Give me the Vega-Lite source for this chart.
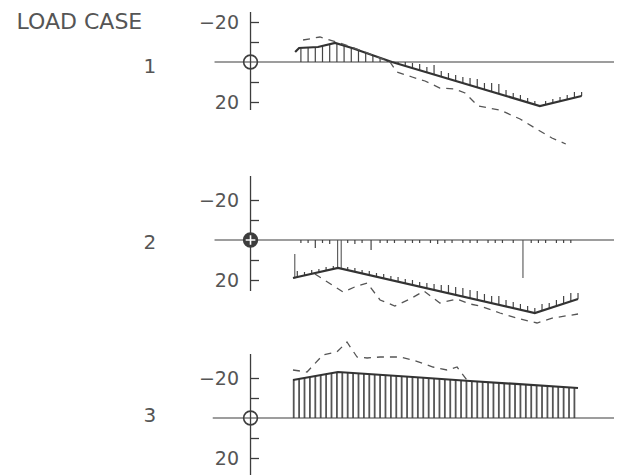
{
  "$schema": "https://vega.github.io/schema/vega-lite/v6.json",
  "background": "white",
  "padding": {"left": 13, "top": 8, "right": 5, "bottom": 0},
  "spacing": 10,
  "config": {"view": {"stroke": null}},
  "datasets": {
    "labels": [
      {"p": 0, "label": "LOAD CASE"},
      {"p": 1, "label": "1"},
      {"p": 2, "label": "2"},
      {"p": 3, "label": "3"}
    ],
    "solid": [
      {"p": 1, "x": 12.4, "v": -5}, {"p": 1, "x": 13.5, "v": -7}, {"p": 1, "x": 18.75, "v": -7.5}, {"p": 1, "x": 23.5, "v": -9.5}, {"p": 1, "x": 28.2, "v": -7}, {"p": 1, "x": 33.75, "v": -3.5}, {"p": 1, "x": 39.3, "v": 0}, {"p": 1, "x": 80.4, "v": 22}, {"p": 1, "x": 92, "v": 17},
      {"p": 2, "x": 11.8, "v": 19}, {"p": 2, "x": 24.3, "v": 14}, {"p": 2, "x": 79, "v": 36.5}, {"p": 2, "x": 91, "v": 29.5},
      {"p": 3, "x": 11.8, "v": -19}, {"p": 3, "x": 24.3, "v": -23}, {"p": 3, "x": 45.1, "v": -20.5}, {"p": 3, "x": 61, "v": -18.5}, {"p": 3, "x": 91, "v": -15}
    ],
    "dashed": [
      {"p": 1, "x": 14.6, "v": -11}, {"p": 1, "x": 19.3, "v": -12.5}, {"p": 1, "x": 24.9, "v": -9.5}, {"p": 1, "x": 31.8, "v": -5}, {"p": 1, "x": 38.75, "v": 0}, {"p": 1, "x": 40.7, "v": 5}, {"p": 1, "x": 44.9, "v": 7.5}, {"p": 1, "x": 48.5, "v": 9.5}, {"p": 1, "x": 52.6, "v": 13}, {"p": 1, "x": 56.8, "v": 13.5}, {"p": 1, "x": 59.6, "v": 15.5}, {"p": 1, "x": 63.2, "v": 22}, {"p": 1, "x": 69.3, "v": 24}, {"p": 1, "x": 74.9, "v": 28.5}, {"p": 1, "x": 79, "v": 33}, {"p": 1, "x": 83.75, "v": 38}, {"p": 1, "x": 87.6, "v": 41},
      {"p": 2, "x": 17.9, "v": 17}, {"p": 2, "x": 25.7, "v": 26}, {"p": 2, "x": 29.6, "v": 23}, {"p": 2, "x": 32.4, "v": 21.5}, {"p": 2, "x": 36, "v": 30}, {"p": 2, "x": 40.1, "v": 33}, {"p": 2, "x": 44.3, "v": 29.5}, {"p": 2, "x": 48.2, "v": 25.5}, {"p": 2, "x": 52.6, "v": 31.5}, {"p": 2, "x": 57.4, "v": 29.5}, {"p": 2, "x": 61, "v": 32}, {"p": 2, "x": 63.75, "v": 33}, {"p": 2, "x": 69.3, "v": 36.5}, {"p": 2, "x": 74.9, "v": 39.5}, {"p": 2, "x": 79.6, "v": 41.5}, {"p": 2, "x": 84, "v": 39}, {"p": 2, "x": 91, "v": 37},
      {"p": 3, "x": 11.8, "v": -24}, {"p": 3, "x": 15.7, "v": -23}, {"p": 3, "x": 20.1, "v": -31.5}, {"p": 3, "x": 24, "v": -33}, {"p": 3, "x": 26.8, "v": -38}, {"p": 3, "x": 29.6, "v": -30.5}, {"p": 3, "x": 32.4, "v": -30}, {"p": 3, "x": 36, "v": -30.5}, {"p": 3, "x": 41.5, "v": -30.5}, {"p": 3, "x": 45.1, "v": -29}, {"p": 3, "x": 50.7, "v": -25.5}, {"p": 3, "x": 54.6, "v": -24}, {"p": 3, "x": 57.4, "v": -25.5}, {"p": 3, "x": 60.1, "v": -19}
    ],
    "verticals": [
      {"p": 2, "x": 12.3, "v": 7, "v2": 19.2}, {"p": 2, "x": 24.2, "v": 0, "v2": 14}, {"p": 2, "x": 25.2, "v": 0, "v2": 14}, {"p": 2, "x": 75.7, "v": 0, "v2": 19}
    ],
    "hatch": [
      {"p": 1, "x": 14, "v": -6.8, "v2": 0}, {"p": 1, "x": 16, "v": -7.1, "v2": 0}, {"p": 1, "x": 18, "v": -7.4, "v2": 0}, {"p": 1, "x": 20, "v": -8, "v2": 0}, {"p": 1, "x": 22, "v": -8.9, "v2": 0}, {"p": 1, "x": 24, "v": -9.2, "v2": 0}, {"p": 1, "x": 26, "v": -8.2, "v2": 0}, {"p": 1, "x": 28, "v": -7.1, "v2": 0}, {"p": 1, "x": 30, "v": -5.8, "v2": 0}, {"p": 1, "x": 32, "v": -4.6, "v2": 0}, {"p": 1, "x": 34, "v": -3.3, "v2": 0}, {"p": 1, "x": 36, "v": -2.1, "v2": 0}, {"p": 1, "x": 38, "v": -0.8, "v2": 0},
      {"p": 1, "x": 41, "v": 0.9, "v2": 0}, {"p": 1, "x": 43, "v": 2.0, "v2": 0}, {"p": 1, "x": 45, "v": 3.0, "v2": 0.5}, {"p": 1, "x": 47, "v": 4.1, "v2": 1}, {"p": 1, "x": 49, "v": 5.2, "v2": 2.5}, {"p": 1, "x": 51, "v": 6.3, "v2": 1.5}, {"p": 1, "x": 53, "v": 7.3, "v2": 4.5}, {"p": 1, "x": 55, "v": 8.4, "v2": 5.5}, {"p": 1, "x": 57, "v": 9.5, "v2": 6.5}, {"p": 1, "x": 59, "v": 10.5, "v2": 7.5}, {"p": 1, "x": 61, "v": 11.6, "v2": 8}, {"p": 1, "x": 63, "v": 12.7, "v2": 8.5}, {"p": 1, "x": 65, "v": 13.8, "v2": 10.5}, {"p": 1, "x": 67, "v": 14.8, "v2": 10.5}, {"p": 1, "x": 69, "v": 15.9, "v2": 11}, {"p": 1, "x": 71, "v": 17.0, "v2": 14}, {"p": 1, "x": 73, "v": 18.0, "v2": 15.5}, {"p": 1, "x": 75, "v": 19.1, "v2": 16.5}, {"p": 1, "x": 77, "v": 20.2, "v2": 18}, {"p": 1, "x": 79, "v": 21.3, "v2": 19.5}, {"p": 1, "x": 82, "v": 21.3, "v2": 19.5}, {"p": 1, "x": 84, "v": 20.4, "v2": 18.5}, {"p": 1, "x": 86, "v": 19.6, "v2": 17.5}, {"p": 1, "x": 88, "v": 18.7, "v2": 16.5}, {"p": 1, "x": 90, "v": 17.9, "v2": 15}, {"p": 1, "x": 92, "v": 17, "v2": 15},
      {"p": 2, "x": 13, "v": 18.5, "v2": 15.5}, {"p": 2, "x": 15, "v": 17.7, "v2": 16}, {"p": 2, "x": 17, "v": 16.9, "v2": 15}, {"p": 2, "x": 19, "v": 16.1, "v2": 14.5}, {"p": 2, "x": 21, "v": 15.3, "v2": 13.5}, {"p": 2, "x": 23, "v": 14.5, "v2": 13}, {"p": 2, "x": 27, "v": 15.1, "v2": 13.5}, {"p": 2, "x": 29, "v": 15.9, "v2": 14}, {"p": 2, "x": 31, "v": 16.8, "v2": 15}, {"p": 2, "x": 33, "v": 17.6, "v2": 15.5}, {"p": 2, "x": 35, "v": 18.4, "v2": 16.5}, {"p": 2, "x": 37, "v": 19.2, "v2": 17}, {"p": 2, "x": 39, "v": 20.0, "v2": 18}, {"p": 2, "x": 41, "v": 20.9, "v2": 18.5}, {"p": 2, "x": 43, "v": 21.7, "v2": 19.5}, {"p": 2, "x": 45, "v": 22.5, "v2": 20}, {"p": 2, "x": 47, "v": 23.3, "v2": 21}, {"p": 2, "x": 49, "v": 24.2, "v2": 21.5}, {"p": 2, "x": 51, "v": 25.0, "v2": 22}, {"p": 2, "x": 53, "v": 25.8, "v2": 22.5}, {"p": 2, "x": 55, "v": 26.6, "v2": 22.5}, {"p": 2, "x": 57, "v": 27.5, "v2": 23.5}, {"p": 2, "x": 59, "v": 28.3, "v2": 24}, {"p": 2, "x": 61, "v": 29.1, "v2": 25}, {"p": 2, "x": 63, "v": 29.9, "v2": 25.5}, {"p": 2, "x": 65, "v": 30.7, "v2": 27}, {"p": 2, "x": 67, "v": 31.6, "v2": 28}, {"p": 2, "x": 69, "v": 32.4, "v2": 28}, {"p": 2, "x": 71, "v": 33.2, "v2": 30}, {"p": 2, "x": 73, "v": 34.0, "v2": 31}, {"p": 2, "x": 75, "v": 34.9, "v2": 32}, {"p": 2, "x": 77, "v": 35.7, "v2": 33}, {"p": 2, "x": 79, "v": 36.5, "v2": 34}, {"p": 2, "x": 81, "v": 35.3, "v2": 32}, {"p": 2, "x": 83, "v": 34.2, "v2": 31.5}, {"p": 2, "x": 85, "v": 33.0, "v2": 30}, {"p": 2, "x": 87, "v": 31.8, "v2": 28}, {"p": 2, "x": 89, "v": 30.7, "v2": 26.5}, {"p": 2, "x": 91, "v": 29.5, "v2": 26.5},
      {"p": 2, "x": 14, "v": 1.5, "v2": 0}, {"p": 2, "x": 16, "v": 1.5, "v2": 0}, {"p": 2, "x": 18, "v": 4, "v2": 0}, {"p": 2, "x": 20, "v": 1.5, "v2": 0}, {"p": 2, "x": 22, "v": 2, "v2": 0}, {"p": 2, "x": 27, "v": 1.5, "v2": 0}, {"p": 2, "x": 29, "v": 2, "v2": 0}, {"p": 2, "x": 31, "v": 1.5, "v2": 0}, {"p": 2, "x": 33.5, "v": 5, "v2": 0}, {"p": 2, "x": 36, "v": 1.5, "v2": 0}, {"p": 2, "x": 38, "v": 1.5, "v2": 0}, {"p": 2, "x": 40, "v": 1.5, "v2": 0}, {"p": 2, "x": 43, "v": 1.5, "v2": 0}, {"p": 2, "x": 45, "v": 1.5, "v2": 0}, {"p": 2, "x": 47, "v": 1.5, "v2": 0}, {"p": 2, "x": 50, "v": 1.5, "v2": 0}, {"p": 2, "x": 52, "v": 2, "v2": 0}, {"p": 2, "x": 54, "v": 1.5, "v2": 0}, {"p": 2, "x": 56, "v": 1.5, "v2": 0}, {"p": 2, "x": 59, "v": 1.5, "v2": 0}, {"p": 2, "x": 61, "v": 1.5, "v2": 0}, {"p": 2, "x": 63, "v": 1.5, "v2": 0}, {"p": 2, "x": 66, "v": 1.5, "v2": 0}, {"p": 2, "x": 68, "v": 1.5, "v2": 0}, {"p": 2, "x": 70, "v": 1.5, "v2": 0}, {"p": 2, "x": 73, "v": 1.5, "v2": 0}, {"p": 2, "x": 78, "v": 1.5, "v2": 0}, {"p": 2, "x": 80, "v": 1.5, "v2": 0}, {"p": 2, "x": 82, "v": 1.5, "v2": 0}, {"p": 2, "x": 85, "v": 1.5, "v2": 0}, {"p": 2, "x": 87, "v": 1.5, "v2": 0}, {"p": 2, "x": 89, "v": 1.5, "v2": 0},
      {"p": 3, "x": 12, "v": -19.1, "v2": 0}, {"p": 3, "x": 13.5, "v": -19.6, "v2": 0}, {"p": 3, "x": 15, "v": -20.1, "v2": 0}, {"p": 3, "x": 16.5, "v": -20.5, "v2": 0}, {"p": 3, "x": 18, "v": -21, "v2": 0}, {"p": 3, "x": 19.5, "v": -21.5, "v2": 0}, {"p": 3, "x": 21, "v": -22, "v2": 0}, {"p": 3, "x": 22.5, "v": -22.5, "v2": 0}, {"p": 3, "x": 24, "v": -22.9, "v2": 0}, {"p": 3, "x": 25.5, "v": -22.8, "v2": 0}, {"p": 3, "x": 27, "v": -22.7, "v2": 0}, {"p": 3, "x": 28.5, "v": -22.5, "v2": 0}, {"p": 3, "x": 30, "v": -22.3, "v2": 0}, {"p": 3, "x": 31.5, "v": -22.1, "v2": 0}, {"p": 3, "x": 33, "v": -22, "v2": 0}, {"p": 3, "x": 34.5, "v": -21.8, "v2": 0}, {"p": 3, "x": 36, "v": -21.6, "v2": 0}, {"p": 3, "x": 37.5, "v": -21.4, "v2": 0}, {"p": 3, "x": 39, "v": -21.3, "v2": 0}, {"p": 3, "x": 40.5, "v": -21.1, "v2": 0}, {"p": 3, "x": 42, "v": -20.9, "v2": 0}, {"p": 3, "x": 43.5, "v": -20.7, "v2": 0}, {"p": 3, "x": 45, "v": -20.5, "v2": 0}, {"p": 3, "x": 46.5, "v": -20.3, "v2": 0}, {"p": 3, "x": 48, "v": -20.1, "v2": 0}, {"p": 3, "x": 49.5, "v": -19.9, "v2": 0}, {"p": 3, "x": 51, "v": -19.8, "v2": 0}, {"p": 3, "x": 52.5, "v": -19.6, "v2": 0}, {"p": 3, "x": 54, "v": -19.4, "v2": 0}, {"p": 3, "x": 55.5, "v": -19.2, "v2": 0}, {"p": 3, "x": 57, "v": -19, "v2": 0}, {"p": 3, "x": 58.5, "v": -18.8, "v2": 0}, {"p": 3, "x": 60, "v": -18.6, "v2": 0}, {"p": 3, "x": 61.5, "v": -18.4, "v2": 0}, {"p": 3, "x": 63, "v": -18.3, "v2": 0}, {"p": 3, "x": 64.5, "v": -18.1, "v2": 0}, {"p": 3, "x": 66, "v": -17.9, "v2": 0}, {"p": 3, "x": 67.5, "v": -17.8, "v2": 0}, {"p": 3, "x": 69, "v": -17.6, "v2": 0}, {"p": 3, "x": 70.5, "v": -17.4, "v2": 0}, {"p": 3, "x": 72, "v": -17.2, "v2": 0}, {"p": 3, "x": 73.5, "v": -17.1, "v2": 0}, {"p": 3, "x": 75, "v": -16.9, "v2": 0}, {"p": 3, "x": 76.5, "v": -16.7, "v2": 0}, {"p": 3, "x": 78, "v": -16.5, "v2": 0}, {"p": 3, "x": 79.5, "v": -16.4, "v2": 0}, {"p": 3, "x": 81, "v": -16.2, "v2": 0}, {"p": 3, "x": 82.5, "v": -16, "v2": 0}, {"p": 3, "x": 84, "v": -15.8, "v2": 0}, {"p": 3, "x": 85.5, "v": -15.7, "v2": 0}, {"p": 3, "x": 87, "v": -15.5, "v2": 0}, {"p": 3, "x": 88.5, "v": -15.3, "v2": 0}, {"p": 3, "x": 90, "v": -15.1, "v2": 0}
    ]
  },
  "vconcat": [
    {
      "width": 601, "height": 157,
      "layer": [
        {"data": {"name": "hatch"}, "transform": [{"filter": "datum.p == 1"}], "mark": {"type": "rule", "color": "#444", "strokeWidth": 1.2},
         "encoding": {"x": {"field": "x", "type": "quantitative", "scale": {"domain": [-66, 101], "nice": false, "zero": false}, "axis": null},
           "y": {"field": "v", "type": "quantitative", "scale": {"domain": [-27, 51.5], "reverse": true, "nice": false, "zero": false},
             "axis": {"title": null, "domain": false, "grid": false, "values": [-20, -10, 10, 20], "labelExpr": "datum.value == -20 ? '−20' : datum.value == 20 ? '20' : ''", "tickSize": -8, "tickColor": "#3d3d3d", "tickWidth": 1.3, "labelPadding": 20, "labelFont": "DejaVu Sans", "labelFontSize": 19, "labelColor": "#555", "offset": -237.5}},
           "y2": {"field": "v2"}}},
        {"data": {"values": [{}]}, "mark": {"type": "rule", "color": "#3d3d3d", "strokeWidth": 1.2},
         "encoding": {"x": {"datum": -10, "type": "quantitative", "axis": null}, "x2": {"datum": 101}, "y": {"datum": 0, "type": "quantitative"}}},
        {"data": {"values": [{}]}, "mark": {"type": "rule", "color": "#3d3d3d", "strokeWidth": 1.3},
         "encoding": {"x": {"datum": 0, "type": "quantitative", "axis": null}, "y": {"datum": -25, "type": "quantitative"}, "y2": {"datum": 24}}},
        {"data": {"name": "solid"}, "transform": [{"filter": "datum.p == 1"}], "mark": {"type": "line", "color": "#333", "strokeWidth": 2.2},
         "encoding": {"x": {"field": "x", "type": "quantitative", "axis": null}, "y": {"field": "v", "type": "quantitative"}}},
        {"data": {"name": "dashed"}, "transform": [{"filter": "datum.p == 1"}], "mark": {"type": "line", "color": "#555", "strokeWidth": 1.3, "strokeDash": [7, 6]},
         "encoding": {"x": {"field": "x", "type": "quantitative", "axis": null}, "y": {"field": "v", "type": "quantitative"}}},
        {"data": {"values": [{}]}, "mark": {"type": "point", "shape": "circle", "size": 190, "filled": false, "stroke": "#3d3d3d", "strokeWidth": 1.6, "opacity": 1},
         "encoding": {"x": {"datum": 0, "type": "quantitative", "axis": null}, "y": {"datum": 0, "type": "quantitative"}}},
        {"data": {"name": "labels"}, "transform": [{"filter": "datum.p == 1"}], "mark": {"type": "text", "font": "DejaVu Sans", "fontSize": 20, "color": "#555", "align": "center", "baseline": "middle"},
         "encoding": {"x": {"datum": -28, "type": "quantitative", "axis": null}, "y": {"datum": 2.5, "type": "quantitative"}, "text": {"field": "label"}}},
        {"data": {"name": "labels"}, "transform": [{"filter": "datum.p == 0"}], "mark": {"type": "text", "font": "DejaVu Sans", "fontSize": 22, "color": "#555", "align": "left", "baseline": "middle"},
         "encoding": {"x": {"datum": -65, "type": "quantitative", "axis": null}, "y": {"datum": -20, "type": "quantitative"}, "text": {"field": "label"}}}
      ]
    },
    {
      "width": 601, "height": 152,
      "layer": [
        {"data": {"name": "hatch"}, "transform": [{"filter": "datum.p == 2"}], "mark": {"type": "rule", "color": "#444", "strokeWidth": 1.2},
         "encoding": {"x": {"field": "x", "type": "quantitative", "scale": {"domain": [-66, 101], "nice": false, "zero": false}, "axis": null},
           "y": {"field": "v", "type": "quantitative", "scale": {"domain": [-32, 44], "reverse": true, "nice": false, "zero": false},
             "axis": {"title": null, "domain": false, "grid": false, "values": [-20, -10, 10, 20], "labelExpr": "datum.value == -20 ? '−20' : datum.value == 20 ? '20' : ''", "tickSize": -8, "tickColor": "#3d3d3d", "tickWidth": 1.3, "labelPadding": 20, "labelFont": "DejaVu Sans", "labelFontSize": 19, "labelColor": "#555", "offset": -237.5}},
           "y2": {"field": "v2"}}},
        {"data": {"values": [{}]}, "mark": {"type": "rule", "color": "#3d3d3d", "strokeWidth": 1.2},
         "encoding": {"x": {"datum": -10, "type": "quantitative", "axis": null}, "x2": {"datum": 101}, "y": {"datum": 0, "type": "quantitative"}}},
        {"data": {"values": [{}]}, "mark": {"type": "rule", "color": "#3d3d3d", "strokeWidth": 1.3},
         "encoding": {"x": {"datum": 0, "type": "quantitative", "axis": null}, "y": {"datum": -32, "type": "quantitative"}, "y2": {"datum": 25.5}}},
        {"data": {"name": "verticals"}, "transform": [{"filter": "datum.p == 2"}], "mark": {"type": "rule", "color": "#555", "strokeWidth": 1.1},
         "encoding": {"x": {"field": "x", "type": "quantitative", "axis": null}, "y": {"field": "v", "type": "quantitative"}, "y2": {"field": "v2"}}},
        {"data": {"name": "solid"}, "transform": [{"filter": "datum.p == 2"}], "mark": {"type": "line", "color": "#333", "strokeWidth": 2.2},
         "encoding": {"x": {"field": "x", "type": "quantitative", "axis": null}, "y": {"field": "v", "type": "quantitative"}}},
        {"data": {"name": "dashed"}, "transform": [{"filter": "datum.p == 2"}], "mark": {"type": "line", "color": "#555", "strokeWidth": 1.3, "strokeDash": [7, 6]},
         "encoding": {"x": {"field": "x", "type": "quantitative", "axis": null}, "y": {"field": "v", "type": "quantitative"}}},
        {"data": {"values": [{}]}, "mark": {"type": "point", "shape": "circle", "size": 190, "filled": true, "fill": "#3d3d3d", "stroke": "#3d3d3d", "strokeWidth": 1.6, "opacity": 1},
         "encoding": {"x": {"datum": 0, "type": "quantitative", "axis": null}, "y": {"datum": 0, "type": "quantitative"}}},
        {"data": {"values": [{}]}, "mark": {"type": "point", "shape": "M-0.7,0H0.7M0,-0.7V0.7", "size": 190, "filled": false, "stroke": "white", "strokeWidth": 1.6, "opacity": 1},
         "encoding": {"x": {"datum": 0, "type": "quantitative", "axis": null}, "y": {"datum": 0, "type": "quantitative"}}},
        {"data": {"name": "labels"}, "transform": [{"filter": "datum.p == 2"}], "mark": {"type": "text", "font": "DejaVu Sans", "fontSize": 20, "color": "#555", "align": "center", "baseline": "middle"},
         "encoding": {"x": {"datum": -28, "type": "quantitative", "axis": null}, "y": {"datum": 1.5, "type": "quantitative"}, "text": {"field": "label"}}}
      ]
    },
    {
      "width": 601, "height": 138,
      "layer": [
        {"data": {"name": "hatch"}, "transform": [{"filter": "datum.p == 3"}], "mark": {"type": "rule", "color": "#555", "strokeWidth": 1.8},
         "encoding": {"x": {"field": "x", "type": "quantitative", "scale": {"domain": [-66, 101], "nice": false, "zero": false}, "axis": null},
           "y": {"field": "v", "type": "quantitative", "scale": {"domain": [-40, 29], "reverse": true, "nice": false, "zero": false},
             "axis": {"title": null, "domain": false, "grid": false, "values": [-20, -10, 10, 20], "labelExpr": "datum.value == -20 ? '−20' : datum.value == 20 ? '20' : ''", "tickSize": -8, "tickColor": "#3d3d3d", "tickWidth": 1.3, "labelPadding": 20, "labelFont": "DejaVu Sans", "labelFontSize": 19, "labelColor": "#555", "offset": -237.5}},
           "y2": {"field": "v2"}}},
        {"data": {"values": [{}]}, "mark": {"type": "rule", "color": "#3d3d3d", "strokeWidth": 1.2},
         "encoding": {"x": {"datum": -10.5, "type": "quantitative", "axis": null}, "x2": {"datum": 101}, "y": {"datum": 0, "type": "quantitative"}}},
        {"data": {"values": [{}]}, "mark": {"type": "rule", "color": "#3d3d3d", "strokeWidth": 1.3},
         "encoding": {"x": {"datum": 0, "type": "quantitative", "axis": null}, "y": {"datum": -32, "type": "quantitative"}, "y2": {"datum": 29}}},
        {"data": {"name": "solid"}, "transform": [{"filter": "datum.p == 3"}], "mark": {"type": "line", "color": "#333", "strokeWidth": 2.2},
         "encoding": {"x": {"field": "x", "type": "quantitative", "axis": null}, "y": {"field": "v", "type": "quantitative"}}},
        {"data": {"name": "dashed"}, "transform": [{"filter": "datum.p == 3"}], "mark": {"type": "line", "color": "#555", "strokeWidth": 1.3, "strokeDash": [7, 6]},
         "encoding": {"x": {"field": "x", "type": "quantitative", "axis": null}, "y": {"field": "v", "type": "quantitative"}}},
        {"data": {"values": [{}]}, "mark": {"type": "point", "shape": "circle", "size": 190, "filled": false, "stroke": "#3d3d3d", "strokeWidth": 1.6, "opacity": 1},
         "encoding": {"x": {"datum": 0, "type": "quantitative", "axis": null}, "y": {"datum": 0, "type": "quantitative"}}},
        {"data": {"name": "labels"}, "transform": [{"filter": "datum.p == 3"}], "mark": {"type": "text", "font": "DejaVu Sans", "fontSize": 20, "color": "#555", "align": "center", "baseline": "middle"},
         "encoding": {"x": {"datum": -28, "type": "quantitative", "axis": null}, "y": {"datum": -1, "type": "quantitative"}, "text": {"field": "label"}}}
      ]
    }
  ]
}
